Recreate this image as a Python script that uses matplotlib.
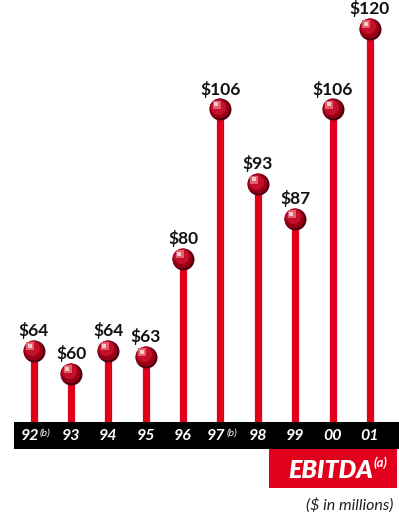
import matplotlib
matplotlib.use("Agg")
import matplotlib.pyplot as plt
import matplotlib.transforms as mtransforms
from matplotlib.patches import Rectangle

years = ["92", "93", "94", "95", "96", "97", "98", "99", "00", "01"]
year_notes = ["(b)", "", "", "", "", "(b)", "", "", "", ""]
values = [64, 60, 64, 63, 80, 106, 93, 87, 106, 120]
value_labels = ["$64", "$60", "$64", "$63", "$80", "$106", "$93", "$87", "$106", "$120"]

W, H = 399, 518
fig = plt.figure(figsize=(W / 100, H / 100), dpi=100)
fig.patch.set_facecolor("white")

band_top = 422
band_bot = 449
ax = fig.add_axes([14 / W, (H - band_top) / H, (W - 14) / W, band_top / H])
ymin = 51.65
ax.set_xlim(-0.526, 9.777)
ax.set_ylim(ymin, 125.04)
ax.axis("off")

red = "#E1001B"
xs = list(range(len(values)))
ax.vlines(xs, ymin, values, color=red, linewidth=5.2, zorder=1)

def off(dx, dy):
    return mtransforms.offset_copy(ax.transData, fig=fig, x=dx, y=dy, units="dots")

ax.scatter(xs, values, s=250, color="#4e000c", zorder=3, linewidths=0, clip_on=False)
ax.scatter(xs, values, s=205, color="#960016", zorder=4, linewidths=0, transform=off(-1, 1), clip_on=False)
ax.scatter(xs, values, s=120, color="#c40f2a", zorder=5, linewidths=0, transform=off(-2, 2.5), clip_on=False)
ax.scatter(xs, values, s=38, color="#e0606e", marker="s", zorder=6, linewidths=0, transform=off(-3.5, 4.5), clip_on=False)
ax.scatter(xs, values, s=10, color="#f6c8cc", marker="s", zorder=7, linewidths=0, transform=off(-4, 5), clip_on=False)

for x, v, lab in zip(xs, values, value_labels):
    ax.annotate(lab, (x, v), xytext=(0, 8.5), textcoords="offset points",
                ha="center", va="bottom", fontsize=12.5, fontweight="bold",
                family="Lato", color="#111111", zorder=8, annotation_clip=False)

# black band
fig.add_artist(Rectangle((14 / W, (H - band_bot) / H), (W - 14) / W, (band_bot - band_top) / H,
                         transform=fig.transFigure, facecolor="black", edgecolor="none", zorder=10))
for x, yr, note in zip(xs, years, year_notes):
    px = ax.transData.transform((x, 60))[0]
    fx = px / W
    fy = (H - 436) / H
    if note:
        fig.text(fx - 4 / W, fy, yr, ha="center", va="center", color="white",
                 fontsize=11.5, style="italic", fontweight="bold", family="Lato", zorder=11)
        fig.text(fx + 6 / W, fy + 3 / H, note, ha="left", va="center", color="white",
                 fontsize=7.5, style="italic", family="Lato", zorder=11)
    else:
        fig.text(fx, fy, yr, ha="center", va="center", color="white",
                 fontsize=11.5, style="italic", fontweight="bold", family="Lato", zorder=11)

# EBITDA box
bx0, bx1, by0, by1 = 269, 397, 449, 488
fig.add_artist(Rectangle((bx0 / W, (H - by1) / H), (bx1 - bx0) / W, (by1 - by0) / H,
                         transform=fig.transFigure, facecolor=red, edgecolor="none", zorder=10))
fig.text(373 / W, (H - 470) / H, "EBITDA", ha="right", va="center", color="white",
         fontsize=18, style="italic", fontweight="heavy", family="Lato", zorder=11)
fig.text(374 / W, (H - 463) / H, "(a)", ha="left", va="center", color="white",
         fontsize=9.5, style="italic", fontweight="bold", family="Lato", zorder=11)

fig.text(393 / W, (H - 505) / H, "($ in millions)", ha="right", va="center", color="#222222",
         fontsize=11.5, style="italic", family="Lato")

fig.savefig("out.png", dpi=100)
